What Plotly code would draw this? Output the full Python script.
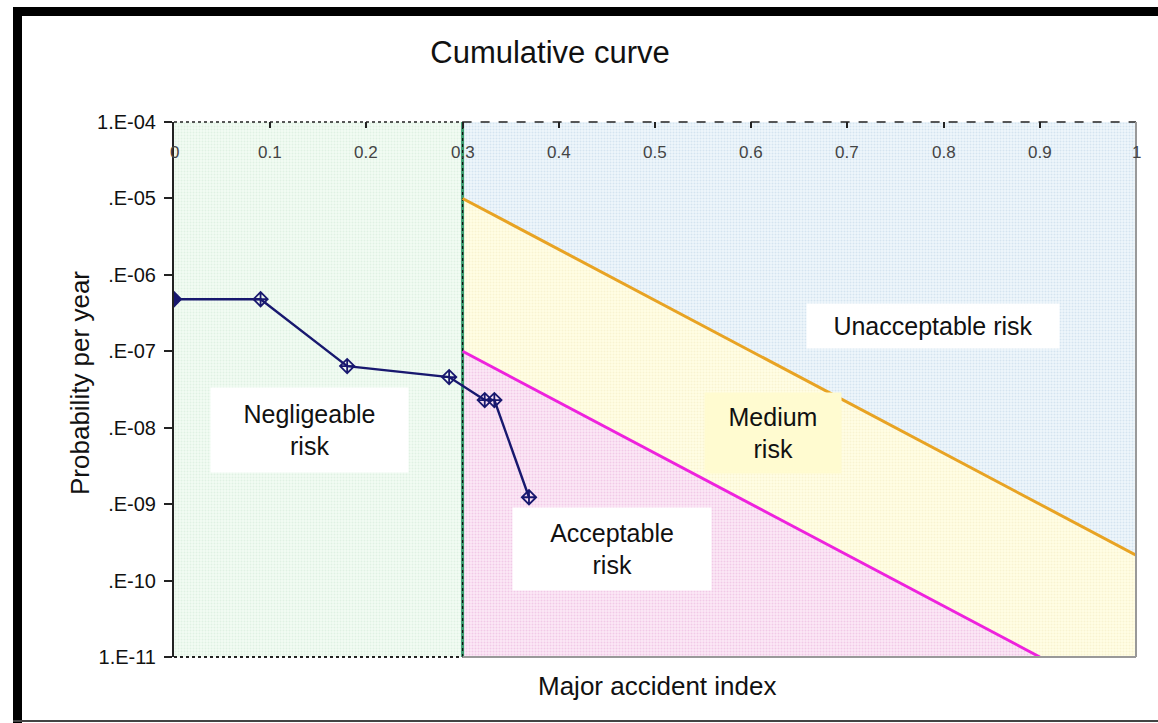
import plotly.graph_objects as go

# ---- data ----
curve_x = [0.0, 0.09, 0.18, 0.286, 0.323, 0.333, 0.369]
curve_y = [4.8e-7, 4.8e-7, 6.4e-8, 4.6e-8, 2.3e-8, 2.3e-8, 1.23e-9]

boundary_x = 0.3                       # negligeable / other limit
upper_x = [0.3, 1.0]                   # unacceptable / medium limit (orange)
upper_y = [1e-5, 2.15e-10]
lower_x = [0.3, 0.9]                   # medium / acceptable limit (magenta)
lower_y = [1e-7, 1e-11]

y_min, y_max = 1e-11, 1e-4
x_min, x_max = 0.0, 1.0

y_tickvals = [1e-4, 1e-5, 1e-6, 1e-7, 1e-8, 1e-9, 1e-10, 1e-11]
y_ticktext = ["1.E-04", ".E-05", ".E-06", ".E-07", ".E-08", ".E-09", ".E-10", "1.E-11"]
x_tickvals = [0, 0.1, 0.2, 0.3, 0.4, 0.5, 0.6, 0.7, 0.8, 0.9, 1]
x_ticktext = ["0", "0.1", "0.2", "0.3", "0.4", "0.5", "0.6", "0.7", "0.8", "0.9", "1"]

FONT = "Liberation Sans, Arial, sans-serif"
W, H = 1158, 723
ML, MR, MT, MB = 174, 22, 122, 66
PW, PH = W - ML - MR, H - MT - MB


def px2paper_x(px):
    return (px - ML) / PW


def px2paper_y(py):
    return (H - MB - py) / PH


fig = go.Figure()


def region(xs, ys, bg, fg):
    fig.add_trace(go.Scatter(
        x=xs, y=ys, mode="lines", fill="toself", line=dict(width=0),
        fillcolor=bg,
        fillpattern=dict(shape=".", bgcolor=bg, fgcolor=fg, size=3, solidity=0.35),
        hoverinfo="skip", showlegend=False))


# negligeable (green)
region([x_min, boundary_x, boundary_x, x_min], [y_min, y_min, y_max, y_max], "#f1fbf3", "#cfe8d3")
# unacceptable (blue)
region([upper_x[0], upper_x[1], x_max, boundary_x], [upper_y[0], upper_y[1], y_max, y_max], "#eef6fb", "#bcd2e4")
# medium (yellow)
region([upper_x[0], upper_x[1], x_max, lower_x[1], lower_x[0]],
       [upper_y[0], upper_y[1], y_min, lower_y[1], lower_y[0]], "#fffde4", "#f1ebbd")
# acceptable (pink)
region([lower_x[0], lower_x[1], boundary_x], [lower_y[0], lower_y[1], y_min], "#fbe8f6", "#e7acd8")

# limit lines
fig.add_trace(go.Scatter(x=[boundary_x, boundary_x], y=[y_min, y_max], mode="lines",
                         line=dict(color="#3a9a6e", width=3), hoverinfo="skip", showlegend=False))
fig.add_trace(go.Scatter(x=[boundary_x, boundary_x], y=[y_min, y_max], mode="lines",
                         line=dict(color="#111111", width=1.2, dash="dot"), hoverinfo="skip", showlegend=False))
fig.add_trace(go.Scatter(x=upper_x, y=upper_y, mode="lines",
                         line=dict(color="#e8a323", width=3), hoverinfo="skip", showlegend=False))
fig.add_trace(go.Scatter(x=lower_x, y=lower_y, mode="lines",
                         line=dict(color="#ee22dd", width=3), hoverinfo="skip", showlegend=False))

# cumulative curve
fig.add_trace(go.Scatter(
    x=curve_x, y=curve_y, mode="lines+markers",
    line=dict(color="#18186f", width=2.4),
    marker=dict(symbol=["diamond"] + ["diamond-cross-open"] * (len(curve_x) - 1),
                size=11, color="#18186f", line=dict(color="#18186f", width=1.8)),
    showlegend=False))

# plot frame pieces
shapes = [
    dict(type="line", xref="x", yref="paper", x0=x_min, x1=boundary_x, y0=1, y1=1,
         line=dict(color="#222222", width=1.5, dash="dot")),
    dict(type="line", xref="x", yref="paper", x0=boundary_x, x1=x_max, y0=1, y1=1,
         line=dict(color="#222222", width=1.5, dash="dash")),
    dict(type="line", xref="x", yref="paper", x0=x_min, x1=boundary_x, y0=0, y1=0,
         line=dict(color="#222222", width=2, dash="dot")),
    dict(type="line", xref="x", yref="paper", x0=boundary_x, x1=x_max, y0=0, y1=0,
         line=dict(color="#999999", width=2)),
    dict(type="line", xref="paper", yref="paper", x0=1, x1=1, y0=0, y1=1,
         line=dict(color="#999999", width=2)),
    # outer black frame
    dict(type="rect", xref="paper", yref="paper", x0=px2paper_x(13), x1=px2paper_x(22),
         y0=px2paper_y(723), y1=px2paper_y(7), fillcolor="black", line=dict(width=0), layer="above"),
    dict(type="rect", xref="paper", yref="paper", x0=px2paper_x(13), x1=px2paper_x(1158),
         y0=px2paper_y(16), y1=px2paper_y(7), fillcolor="black", line=dict(width=0), layer="above"),
    dict(type="line", xref="paper", yref="paper", x0=px2paper_x(13), x1=px2paper_x(1158),
         y0=px2paper_y(721), y1=px2paper_y(721), line=dict(color="#444444", width=2), layer="above"),
]

# x tick labels drawn inside the plot, under the top axis
x_label_y = px2paper_y(152)
annotations = [
    dict(x=v, y=x_label_y, xref="x", yref="paper", text=t, showarrow=False,
         font=dict(family=FONT, size=17, color="#444444"), xanchor="center", yanchor="middle")
    for v, t in zip(x_tickvals, x_ticktext)
]

annotations += [
    dict(x=0.141, y=-8.03, xref="x", yref="y", text="Negligeable<br>risk", showarrow=False,
         font=dict(family=FONT, size=25, color="#111111"), bgcolor="white", width=195, height=82),
    dict(x=0.789, y=-6.67, xref="x", yref="y", text="Unacceptable risk", showarrow=False,
         font=dict(family=FONT, size=25, color="#111111"), bgcolor="white", width=250, height=42),
    dict(x=0.623, y=-8.07, xref="x", yref="y", text="Medium<br>risk", showarrow=False,
         font=dict(family=FONT, size=25, color="#111111"), bgcolor="#fffbd0", width=134, height=78),
    dict(x=0.455, y=-9.59, xref="x", yref="y", text="Acceptable<br>risk", showarrow=False,
         font=dict(family=FONT, size=25, color="#111111"), bgcolor="white", width=196, height=80),
    # x axis title (below plot)
    dict(x=px2paper_x(657), y=px2paper_y(686), xref="paper", yref="paper", text="Major accident index",
         showarrow=False, font=dict(family=FONT, size=26, color="#111111"),
         xanchor="center", yanchor="middle"),
    # y axis title
    dict(x=px2paper_x(80), y=px2paper_y(383), xref="paper", yref="paper", text="Probability per year",
         showarrow=False, textangle=-90, font=dict(family=FONT, size=26, color="#111111"),
         xanchor="center", yanchor="middle"),
]

fig.update_layout(
    width=W, height=H,
    margin=dict(l=ML, r=MR, t=MT, b=MB),
    paper_bgcolor="white", plot_bgcolor="white",
    font=dict(family=FONT, color="#111111"),
    title=dict(text="Cumulative curve", x=550 / W, xanchor="center", y=1 - 52 / H, yanchor="middle",
               font=dict(family=FONT, size=31, color="#111111")),
    shapes=shapes, annotations=annotations,
    showlegend=False,
)

fig.update_xaxes(
    range=[x_min, x_max], side="top", showgrid=False, zeroline=False,
    tickvals=x_tickvals, showticklabels=False,
    ticks="inside", ticklen=6, tickcolor="#222222", tickwidth=1.5,
    showline=False,
)
fig.update_yaxes(
    type="log", range=[-11.0005, -3.9995], showgrid=False, zeroline=False,
    tickvals=y_tickvals, ticktext=y_ticktext,
    ticks="outside", ticklen=8, tickcolor="#222222", tickwidth=2,
    ticklabelstandoff=4,
    tickfont=dict(family=FONT, size=20, color="#111111"),
    showline=True, linecolor="#222222", linewidth=2,
)

fig.write_html("out.html", config={"displayModeBar": False},
               post_script="document.body.style.margin='0px';")
